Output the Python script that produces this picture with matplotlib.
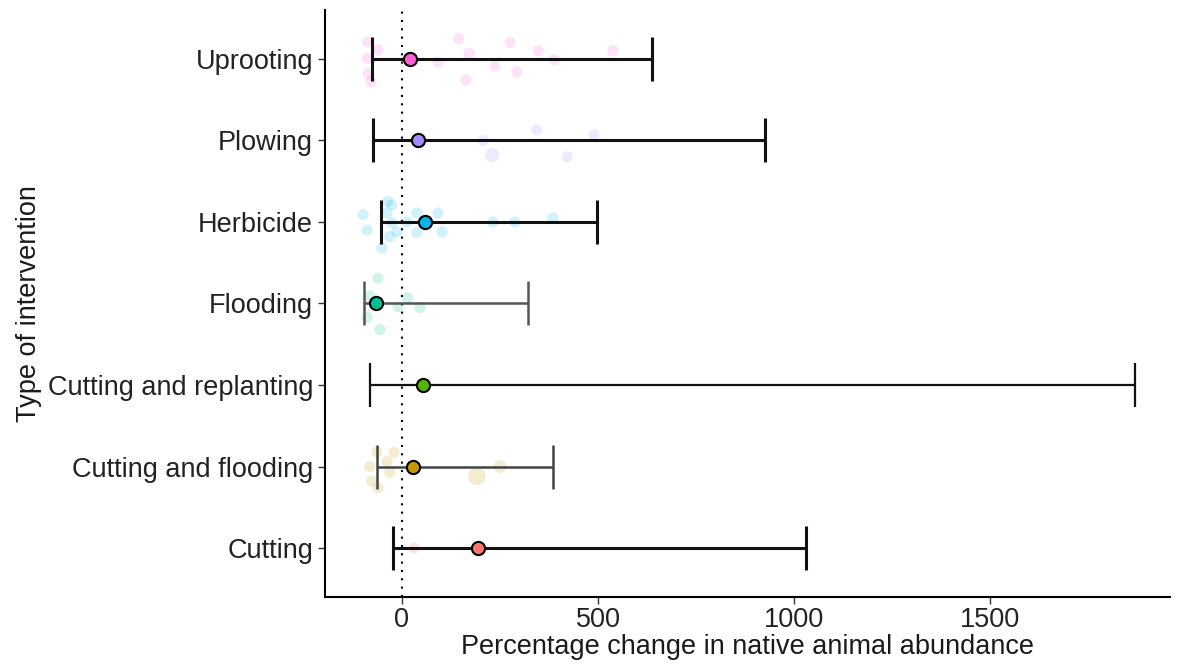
import matplotlib.pyplot as plt
import numpy as np

plt.rcParams['font.family'] = ['Liberation Sans', 'DejaVu Sans']

# rows from bottom to top
types = ['Cutting', 'Cutting and flooding', 'Cutting and replanting', 'Flooding',
         'Herbicide', 'Plowing', 'Uprooting']
mean = [194, 28, 54, -66, 59, 41, 20]
ci_low = [-23, -64, -82, -97, -54, -74, -77]
ci_high = [1031, 385, 1870, 321, 497, 926, 638]
colors = ['#F8766D', '#C49A00', '#53B400', '#00C094', '#00B6EB', '#A58AFF', '#FB61D7']

# individual study effects (percentage change) and their vertical jitter
raw = {
    'Cutting': [31],
    'Cutting and flooding': [-64, -20, -38, -82, -31, -77, -61, 191, 250],
    'Cutting and replanting': [54],
    'Flooding': [-61, -82, -89, -56, 15, 46, -10],
    'Herbicide': [-99, -89, -51, -36, -26, -38, -26, -31, -13, 38, 38, 92, 102, 13, 232, 288, 385],
    'Plowing': [207, 230, 344, 421, 490],
    'Uprooting': [-87, -61, -89, -87, -79, 145, 171, 92, 163, 237, 276, 293, 347, 388, 538],
}
jitter = {
    'Cutting': [0.0],
    'Cutting and flooding': [0.18, 0.17, 0.06, 0.0, -0.07, -0.18, -0.26, -0.12, 0.0],
    'Cutting and replanting': [0.0],
    'Flooding': [0.31, 0.09, -0.17, -0.32, 0.07, -0.05, -0.04],
    'Herbicide': [0.09, -0.1, -0.32, 0.25, 0.21, 0.11, -0.01, -0.18, -0.12, 0.11, -0.13, 0.11, -0.12, 0.0, 0.0, 0.0, 0.05],
    'Plowing': [0.0, -0.18, 0.13, -0.2, 0.07],
    'Uprooting': [0.21, 0.11, 0.01, -0.18, -0.28, 0.25, 0.07, -0.04, -0.26, -0.09, 0.2, -0.16, 0.1, -0.01, 0.1],
}
weight = {
    'Cutting': [1], 'Cutting and flooding': [1, 1, 1, 1, 1, 1, 1, 2.5, 1.3],
    'Cutting and replanting': [1], 'Flooding': [1] * 7, 'Herbicide': [1] * 17,
    'Plowing': [1, 1.6, 1, 1, 1], 'Uprooting': [1] * 15,
}

bar_col = ['#111111', '#444444', '#111111', '#555555', '#111111', '#111111', '#111111']
bar_lw = [2.2, 1.8, 1.6, 1.8, 2.2, 2.2, 2.2]

fig = plt.figure(figsize=(11.88, 6.65), dpi=100)
ax = fig.add_axes([0.2736, 0.1023, 0.7114, 0.8827])

y = np.arange(1, len(types) + 1)

for i, t in enumerate(types):
    xs = np.array(raw[t])
    ys = y[i] + np.array(jitter[t])
    ax.scatter(xs, ys, s=np.array(weight[t]) * 65, color=colors[i], alpha=0.18,
               edgecolors='none', zorder=1)

ax.axvline(0, color='black', linestyle=(0, (1, 3)), linewidth=1.5, zorder=2)

for i, t in enumerate(types):
    ax.errorbar(mean[i], y[i],
                xerr=[[mean[i] - ci_low[i]], [ci_high[i] - mean[i]]],
                fmt='none', ecolor=bar_col[i], elinewidth=bar_lw[i],
                capsize=16, capthick=bar_lw[i], zorder=3)
    ax.scatter(mean[i], y[i], s=90, color=colors[i], edgecolors='black',
               linewidths=1.5, zorder=4)

ax.set_xlim(-196, 1959)
ax.set_ylim(0.4, 7.6)
ax.set_yticks(y)
ax.set_yticklabels(types)
ax.set_xticks([0, 500, 1000, 1500])

ax.set_xlabel('Percentage change in native animal abundance', fontsize=19.5,
              color='#1a1a1a', labelpad=1)
ax.set_ylabel('Type of intervention', fontsize=19.5, color='#1a1a1a', labelpad=4)
ax.tick_params(axis='both', labelsize=19.5, labelcolor='#222222', color='#333333',
               width=1.0, length=5)
ax.tick_params(axis='x', pad=2)

for s in ['top', 'right']:
    ax.spines[s].set_visible(False)
for s in ['left', 'bottom']:
    ax.spines[s].set_linewidth(1.5)
    ax.spines[s].set_color('black')

fig.savefig('out.png', dpi=100)
